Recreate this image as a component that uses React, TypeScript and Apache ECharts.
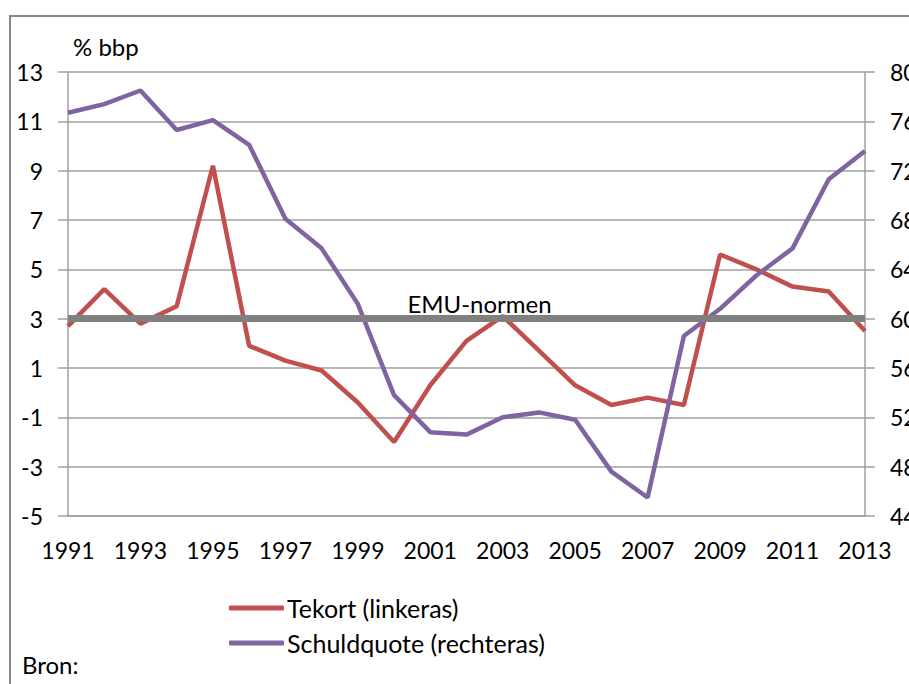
import React, { useEffect, useRef } from "react";
import * as echarts from "echarts";

const years = [
  "1991", "1992", "1993", "1994", "1995", "1996", "1997", "1998", "1999", "2000",
  "2001", "2002", "2003", "2004", "2005", "2006", "2007", "2008", "2009", "2010",
  "2011", "2012", "2013",
];
const tekort = [
  2.7, 4.2, 2.8, 3.5, 9.2, 1.9, 1.3, 0.9, -0.4, -2.0, 0.3, 2.1, 3.1, 1.7, 0.3, -0.5,
  -0.2, -0.5, 5.6, 5.0, 4.3, 4.1, 2.5,
];
const schuldquote = [
  76.7, 77.4, 78.5, 75.3, 76.1, 74.1, 68.1, 65.7, 61.2, 53.8, 50.8, 50.6, 52.0, 52.4,
  51.8, 47.6, 45.5, 58.6, 60.8, 63.5, 65.7, 71.3, 73.6,
];
const emuNormRight = 60;
const seriesNames = ["Tekort (linkeras)", "Schuldquote (rechteras)"];

const FONT = "Lato";
const FS = 23;

export default function App() {
  const ref = useRef<HTMLDivElement>(null);
  useEffect(() => {
    if (!ref.current) return;
    const chart = echarts.init(ref.current, null, { renderer: "svg" });
    const axisGray = "#a0a0a0";
    chart.setOption({
      animation: false,
      grid: { left: 68, top: 72, width: 797, height: 444, containLabel: false },
      xAxis: {
        type: "category",
        data: years,
        boundaryGap: false,
        axisLine: { show: true, onZero: false, lineStyle: { color: axisGray, width: 1.5 } },
        axisTick: { show: false },
        axisLabel: {
          interval: 1,
          margin: 22,
          color: "#000",
          fontFamily: FONT,
          fontSize: FS,
        },
        splitLine: { show: false },
      },
      yAxis: [
        {
          type: "value",
          min: -5,
          max: 13,
          interval: 2,
          axisLine: { show: true, lineStyle: { color: axisGray, width: 1.5 } },
          axisTick: { show: true, length: 10, lineStyle: { color: axisGray, width: 1.5 } },
          axisLabel: { margin: 25, color: "#000", fontFamily: FONT, fontSize: FS },
          splitLine: { show: true, lineStyle: { color: axisGray, width: 1.5 } },
        },
        {
          type: "value",
          min: 44,
          max: 80,
          interval: 4,
          position: "right",
          axisLine: { show: true, lineStyle: { color: axisGray, width: 1.5 } },
          axisTick: { show: true, length: 10, lineStyle: { color: axisGray, width: 1.5 } },
          axisLabel: { margin: 25, color: "#000", fontFamily: FONT, fontSize: FS },
          splitLine: { show: false },
        },
      ],
      legend: {
        orient: "vertical",
        left: 224,
        top: 590,
        itemWidth: 55,
        itemHeight: 5,
        itemGap: 9,
        icon: "roundRect",
        data: seriesNames,
        textStyle: {
          color: "#000",
          fontFamily: FONT,
          fontSize: 25,
          lineHeight: 26,
          padding: [0, 0, 0, -2],
        },
      },
      graphic: [
        {
          type: "text",
          left: 73,
          top: 34,
          style: { text: "% bbp", fill: "#000", font: `24px ${FONT}` },
        },
        {
          type: "text",
          left: 22,
          top: 652,
          style: { text: "Bron:", fill: "#000", font: `24px ${FONT}` },
        },
      ],
      series: [
        {
          name: seriesNames[0],
          type: "line",
          yAxisIndex: 0,
          data: tekort,
          symbol: "none",
          itemStyle: { color: "#C0504D" },
          lineStyle: { color: "#C0504D", width: 4.5 },
          z: 3,
        },
        {
          name: seriesNames[1],
          type: "line",
          yAxisIndex: 1,
          data: schuldquote,
          symbol: "none",
          itemStyle: { color: "#8064A2" },
          lineStyle: { color: "#8064A2", width: 4.5 },
          z: 4,
          markLine: {
            silent: true,
            symbol: ["none", "none"],
            lineStyle: { color: "#808080", width: 7, type: "solid" },
            label: {
              show: true,
              position: "insideMiddleTop",
              formatter: "EMU-normen",
              color: "#000",
              fontFamily: FONT,
              fontSize: 24,
              distance: 3,
              offset: [13, 0],
            },
            data: [{ yAxis: emuNormRight }],
          },
        },
      ],
    });
    return () => chart.dispose();
  }, []);

  return (
    <div
      style={{
        position: "absolute",
        left: 0,
        top: 0,
        width: 909,
        height: 684,
        overflow: "hidden",
        background: "#fff",
      }}
    >
      <div
        style={{
          position: "absolute",
          left: 9,
          top: 15,
          width: 1000,
          height: 1000,
          border: "2.5px solid #888",
          boxSizing: "border-box",
        }}
      />
      <div
        ref={ref}
        style={{ position: "absolute", left: 0, top: 0, width: 1000, height: 684 }}
      />
    </div>
  );
}
